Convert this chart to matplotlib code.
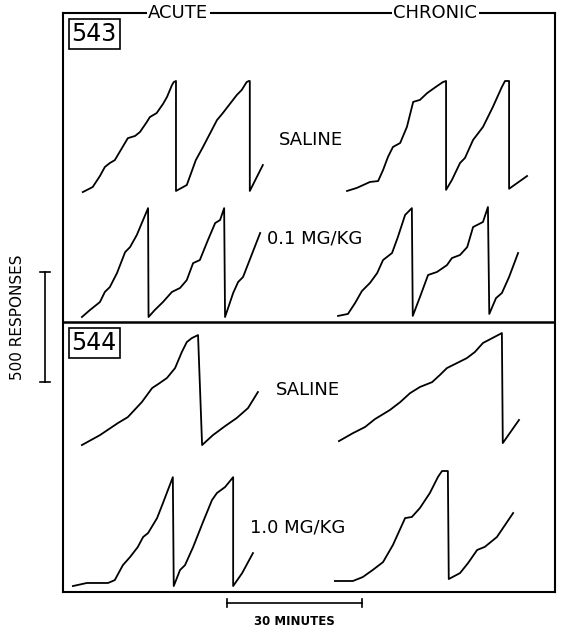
import matplotlib
matplotlib.use("Agg")
import matplotlib.pyplot as plt

# Cumulative records: time (min from record start), pen position (responses)
# Rat 543, saline
a1_t = [0, 2.2, 3.8, 4.9, 6.0, 7.1, 8.7, 10.0, 11.6, 12.7, 14.2, 14.9, 16.4, 17.8, 18.7, 19.8, 20.2, 20.7,
        20.7, 23.1, 25.1, 26.7, 29.8, 31.1, 34.2, 35.3, 36.4, 36.9, 37.1, 37.1, 40.0]
a1_r = [0, 23, 73, 114, 132, 145, 200, 245, 255, 273, 318, 341, 359, 400, 432, 486, 500, 505,
        5, 32, 145, 205, 327, 359, 441, 464, 500, 505, 505, 5, 123]
c1_t = [0, 2.2, 5.1, 6.9, 8.0, 9.1, 10.2, 11.8, 13.3, 14.7, 16.2, 17.8, 20.0, 21.3, 22.0,
        22.0, 23.3, 25.1, 26.2, 28.0, 30.2, 32.4, 34.4, 35.1, 35.8, 36.0, 36.0, 40.0]
c1_r = [0, 14, 41, 45, 95, 155, 200, 218, 291, 405, 414, 445, 477, 495, 500,
        5, 50, 127, 150, 232, 291, 382, 473, 500, 500, 500, 10, 68]

# Rat 543, 0.1 mg/kg
a2_t = [0, 1.8, 4.0, 5.1, 6.2, 7.8, 9.6, 10.7, 12.2, 14.7, 14.8, 16.2, 18.0, 20.0, 21.8, 23.3, 24.7,
        26.2, 28.0, 29.6, 30.7, 31.6, 31.8, 33.6, 34.7, 35.8, 39.6]
a2_r = [0, 32, 68, 114, 136, 200, 295, 318, 373, 495, 0, 32, 68, 114, 132, 168, 245,
        259, 350, 427, 441, 495, 0, 109, 159, 182, 382]
c2_t = [0, 2.2, 3.8, 5.3, 7.1, 8.7, 10.0, 12.0, 13.3, 14.9, 16.4, 16.6, 18.2, 20.0, 22.0, 24.2, 25.3,
        27.1, 28.7, 30.0, 32.2, 33.3, 33.6, 35.1, 36.4, 38.0, 40.0]
c2_r = [5, 14, 64, 118, 155, 200, 259, 291, 364, 464, 495, 5, 91, 191, 205, 236, 268,
        282, 318, 409, 432, 500, 14, 86, 109, 182, 291]

# Rat 544, saline
a3_t = [0, 4.0, 8.0, 10.2, 13.3, 15.6, 17.3, 18.9, 20.7, 22.2, 23.3, 24.4, 25.8,
        26.7, 29.1, 31.8, 34.4, 36.9, 39.1]
a3_r = [0, 45, 100, 127, 195, 259, 282, 305, 350, 423, 468, 486, 500,
        0, 45, 86, 123, 168, 241]
c3_t = [0, 3.1, 5.8, 8.0, 11.3, 13.6, 15.8, 18.0, 20.7, 22.4, 24.0, 28.4, 30.2, 32.0, 36.2, 36.4, 40.0]
c3_r = [9, 45, 73, 109, 150, 186, 227, 255, 277, 309, 341, 386, 414, 455, 500, 0, 105]

# Rat 544, 1.0 mg/kg
a4_t = [0, 1.1, 3.1, 7.8, 9.3, 11.1, 12.7, 14.4, 15.6, 16.7, 18.7, 20.0, 22.2, 22.4, 23.8, 24.9,
        26.7, 28.9, 30.9, 32.0, 33.8, 35.6, 35.6, 37.6, 40.0]
a4_r = [0, 5, 14, 14, 27, 95, 132, 177, 223, 241, 309, 377, 495, 0, 73, 95,
        177, 291, 391, 423, 450, 495, 0, 59, 150]
c4_t = [0, 4.0, 6.2, 8.4, 10.7, 12.9, 15.6, 17.1, 18.9, 21.1, 22.9, 23.8, 25.1, 25.3, 27.8, 29.6,
        31.6, 33.3, 36.0, 39.6]
c4_r = [0, 0, 18, 50, 86, 164, 286, 291, 332, 400, 473, 500, 500, 9, 36, 82,
        141, 155, 200, 309]

records = [(a1_t, a1_r), (c1_t, c1_r), (a2_t, a2_r), (c2_t, c2_r),
           (a3_t, a3_r), (c3_t, c3_r), (a4_t, a4_r), (c4_t, c4_r)]
# where each record starts on the page (minutes, responses)
origins = [(4.4, 1818), (63.1, 1823), (4.2, 1250), (61.1, 1250),
           (4.2, 668), (61.3, 677), (2.2, 27), (60.4, 50)]

fig = plt.figure(figsize=(5.63, 6.33), dpi=100)
ax = fig.add_axes([63 / 563, 41 / 633, 492 / 563, 579 / 633])
ax.set_xlim(0, 109.3)
ax.set_ylim(0, 2632)
ax.set_xticks([])
ax.set_yticks([])
for s in ax.spines.values():
    s.set_linewidth(1.5)

for (t, r), (x0, y0) in zip(records, origins):
    ax.plot([x0 + v for v in t], [y0 + v for v in r], color="black", lw=1.3,
            solid_joinstyle="round")

ax.axhline(1227, color="black", lw=1.8)

# labels
ax.text(25.6, 2632, "ACUTE", ha="center", va="center", fontsize=13,
        bbox=dict(facecolor="white", edgecolor="none", pad=1), clip_on=False)
ax.text(82.7, 2632, "CHRONIC", ha="center", va="center", fontsize=13,
        bbox=dict(facecolor="white", edgecolor="none", pad=1), clip_on=False)
box = dict(boxstyle="square,pad=0.12", facecolor="white", edgecolor="black", lw=1.2)
ax.text(6.9, 2536, "543", ha="center", va="center", fontsize=17, bbox=box)
ax.text(6.9, 1132, "544", ha="center", va="center", fontsize=17, bbox=box)

ax.text(55.1, 2055, "SALINE", ha="center", va="center", fontsize=13)
ax.text(45.3, 1605, "0.1 MG/KG", ha="left", va="center", fontsize=13)
ax.text(54.4, 918, "SALINE", ha="center", va="center", fontsize=13)
ax.text(41.6, 295, "1.0 MG/KG", ha="left", va="center", fontsize=13)

# scale bars
ax.plot([36.4, 66.4], [-50, -50], color="black", lw=1.2, clip_on=False)
ax.plot([36.4, 36.4], [-68, -32], color="black", lw=1.2, clip_on=False)
ax.plot([66.4, 66.4], [-68, -32], color="black", lw=1.2, clip_on=False)
ax.text(51.4, -136, "30 MINUTES", ha="center", va="center", fontsize=8.5, fontweight="bold")

ax.plot([-4.0, -4.0], [955, 1455], color="black", lw=1.2, clip_on=False)
ax.plot([-5.1, -2.9], [955, 955], color="black", lw=1.2, clip_on=False)
ax.plot([-5.1, -2.9], [1455, 1455], color="black", lw=1.2, clip_on=False)
ax.text(-10.2, 1250, "500 RESPONSES", ha="center", va="center", rotation=90, fontsize=11)

fig.savefig("out.png", dpi=100)
